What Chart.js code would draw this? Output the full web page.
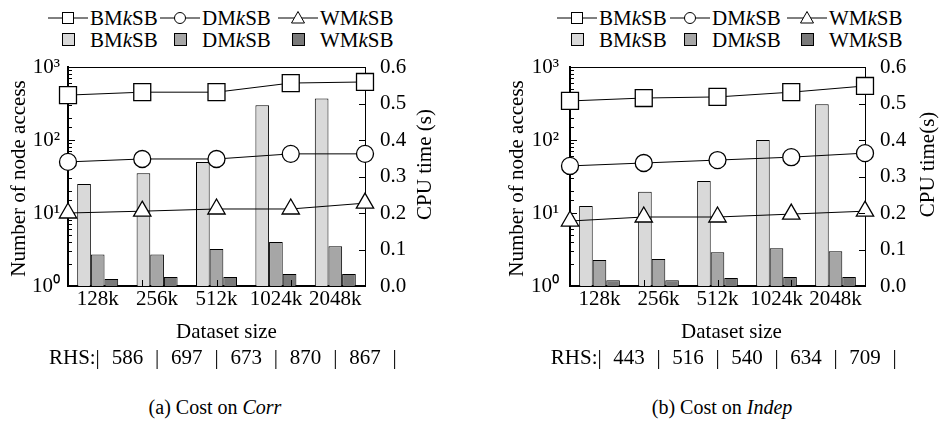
<!DOCTYPE html>
<html>
<head>
<meta charset="utf-8">
<title>Cost on Corr / Indep</title>
<script src="https://cdn.jsdelivr.net/npm/chart.js@4.4.0/dist/chart.umd.min.js"></script>
<style>
  html, body { margin: 0; padding: 0; background: #fff; }
  body { width: 941px; height: 422px; position: relative; overflow: hidden;
         font-family: "Liberation Serif", "Times New Roman", serif; color: #000; }
  .panel { position: absolute; top: 0; height: 422px; }
  .panel canvas { position: absolute; top: 50px; left: 0; }
  .legend { position: absolute; top: 7px; display: grid; row-gap: 0; font-size: 21px; line-height: 22px; }
  .legend .cell { display: flex; align-items: center; white-space: nowrap; }
  .legend .ico { width: 42px; height: 22px; position: relative; flex: none; }
  .legend .box { position: absolute; left: 14px; top: 4px; width: 11px; height: 11px; border: 1px solid #000; }
  .cap { position: absolute; top: 396px; font-size: 20px; white-space: nowrap; transform: translateX(-50%); }
</style>
</head>
<body>
<div class="panel" style="left:0;width:470px">
  <div class="legend" id="legA" style="left:48px;grid-template-columns:112px 118px 120px"></div>
  <canvas id="barsA" width="470" height="330"></canvas>
  <canvas id="linesA" width="470" height="330"></canvas>
  <div class="cap" style="left:215px">(a) Cost on <i>Corr</i></div>
</div>
<div class="panel" style="left:470px;width:471px">
  <div class="legend" id="legB" style="left:87px;grid-template-columns:113px 117px 120px"></div>
  <canvas id="barsB" width="471" height="330"></canvas>
  <canvas id="linesB" width="471" height="330"></canvas>
  <div class="cap" style="left:252px">(b) Cost on <i>Indep</i></div>
</div>

<script>
// ---- data ----
const categories = ['128k', '256k', '512k', '1024k', '2048k'];
const seriesNames = ['BMkSB', 'DMkSB', 'WMkSB'];

// (a) Corr: node accesses (bars, log axis) and CPU time in s (lines)
const corrNodeBM = [25, 35, 50, 300, 370];
const corrNodeDM = [2.7, 2.7, 3.2, 4.0, 3.5];
const corrNodeWM = [1.25, 1.33, 1.33, 1.46, 1.46];
const corrCpuBM = [0.523, 0.531, 0.531, 0.556, 0.559];
const corrCpuDM = [0.340, 0.348, 0.348, 0.362, 0.362];
const corrCpuWM = [0.200, 0.205, 0.211, 0.211, 0.227];
const corrRHS = [586, 697, 673, 870, 867];

// (b) Indep
const indepNodeBM = [12.5, 19.5, 27.5, 100, 310];
const indepNodeDM = [2.27, 2.35, 2.9, 3.3, 3.0];
const indepNodeWM = [1.2, 1.2, 1.29, 1.33, 1.33];
const indepCpuBM = [0.507, 0.515, 0.518, 0.531, 0.548];
const indepCpuDM = [0.329, 0.337, 0.345, 0.353, 0.364];
const indepCpuWM = [0.178, 0.189, 0.189, 0.197, 0.205];
const indepRHS = [443, 516, 540, 634, 709];

const nodeRange = [1, 1000];
const cpuRange = [0, 0.6];
const cpuStep = 0.1;

// ---- styling ----
const FONT = '"Liberation Serif", "Times New Roman", serif';
const INK = '#000';
const barFill = ['#d9d9d9', '#a6a6a6', '#7a7a7a'];
const markers = ['rect', 'circle', 'triangle'];
const markerSize = [12, 8.5, 10];
const TOP = 17, XAXIS_H = 94;

const sup = { '0': '⁰', '1': '¹', '2': '²', '3': '³', '4': '⁴' };
const isDecade = v => { const e = Math.log10(v); return Math.abs(e - Math.round(e)) < 1e-9; };
const italK = s => s.replace('k', '<i>k</i>');
// no extra room for label overhang, so both stacked charts get the same plot box
const noOverhang = s => { s.paddingTop = 0; s.paddingBottom = 0; s.paddingLeft = 0; s.paddingRight = 0; };

// bars and lines live in two stacked charts with the same plot box
// (one chart with two x axes makes Chart.js split the bar groups)

// inward ticks, top frame line, axis titles and the RHS row
const decor = {
  id: 'decor',
  afterDraw(chart, args, o) {
    const { ctx, chartArea: a, scales } = chart;
    ctx.save();
    ctx.strokeStyle = INK;
    ctx.lineWidth = 1;
    ctx.beginPath();
    if (scales.y) {
      ctx.moveTo(a.left, a.top + 0.5);
      ctx.lineTo(a.right, a.top + 0.5);
      scales.y.ticks.forEach(t => {
        const py = Math.round(scales.y.getPixelForValue(t.value)) + 0.5;
        ctx.moveTo(a.left, py);
        ctx.lineTo(a.left + (isDecade(t.value) ? 7 : 4), py);
      });
    }
    if (scales.y2) {
      scales.y2.ticks.forEach(t => {
        const py = Math.round(scales.y2.getPixelForValue(t.value)) + 0.5;
        ctx.moveTo(a.right, py);
        ctx.lineTo(a.right - 6, py);
      });
      for (let i = 1; i < categories.length - 1; i++) {
        const px = Math.round(scales.x2.getPixelForValue(i)) + 0.5;
        ctx.moveTo(px, a.bottom);
        ctx.lineTo(px, a.bottom - 6);
      }
    }
    ctx.stroke();

    if (scales.x) {
      const x = scales.x;
      ctx.fillStyle = INK;
      ctx.font = '21px ' + FONT;
      ctx.textAlign = 'center';
      ctx.textBaseline = 'middle';
      const cx = (a.left + a.right) / 2, cy = (a.top + a.bottom) / 2;
      ctx.fillText('Dataset size', cx + o.xTitleShift, a.bottom + 46);
      [[o.yTitle, a.left - o.yTitleGap, cy + 2], [o.y2Title, a.right + o.y2TitleGap, cy - 12]].forEach(([s, tx, ty]) => {
        ctx.save();
        ctx.translate(tx, ty);
        ctx.rotate(-Math.PI / 2);
        ctx.fillText(s, 0, 0);
        ctx.restore();
      });

      // RHS: a bar at every category centre, values in between
      const x0 = x.getPixelForValue(0);
      const step = x.getPixelForValue(1) - x0;
      const ry = a.bottom + 72;
      ctx.textAlign = 'right';
      ctx.fillText('RHS:', x0 - 2, ry);
      ctx.textAlign = 'center';
      for (let i = 0; i <= o.rhs.length; i++) ctx.fillText('|', x0 + i * step, ry);
      o.rhs.forEach((v, i) => ctx.fillText(String(v), x0 + i * step + step / 2, ry));
    }
    ctx.restore();
  }
};

function buildLegend(el) {
  let html = '';
  seriesNames.forEach((n, i) => {
    let m;
    if (i === 0) m = '<rect x="14.5" y="4.5" width="11" height="11" fill="#fff" stroke="#000"/>';
    else if (i === 1) m = '<circle cx="20" cy="10" r="5.5" fill="#fff" stroke="#000"/>';
    else m = '<polygon points="20,3.5 26.5,15 13.5,15" fill="#fff" stroke="#000"/>';
    html += `<div class="cell"><svg class="ico" width="42" height="22" viewBox="0 0 42 20">` +
      `<line x1="0" y1="10" x2="40" y2="10" stroke="#000"/>${m}</svg>${italK(n)}</div>`;
  });
  seriesNames.forEach((n, i) => {
    html += `<div class="cell"><span class="ico"><span class="box" style="background:${barFill[i]}"></span></span>${italK(n)}</div>`;
  });
  el.innerHTML = html;
}

const tickFont = { family: FONT, size: 21 };
const baseOptions = (o, padding, scales) => ({
  responsive: false, animation: false, devicePixelRatio: 1,
  layout: { padding },
  plugins: { legend: { display: false }, tooltip: { enabled: false }, decor: o },
  scales
});

function makeBars(id, nodes, o) {
  return new Chart(document.getElementById(id), {
    type: 'bar',
    data: {
      labels: categories,
      datasets: nodes.map((d, i) => ({
        label: seriesNames[i], data: d, xAxisID: 'x', yAxisID: 'y',
        backgroundColor: barFill[i], borderColor: INK, borderWidth: 1,
        barPercentage: 1, categoryPercentage: 0.69
      }))
    },
    plugins: [decor],
    options: baseOptions(o, { top: TOP, bottom: 0, left: 0, right: o.rightW }, {
      x: {
        type: 'category', position: 'bottom', offset: true,
        grid: { display: false, drawTicks: false }, border: { display: true, color: INK, width: 2 },
        ticks: { color: INK, font: tickFont, padding: 1, maxRotation: 0, autoSkip: false },
        afterFit: s => { s.height = XAXIS_H; noOverhang(s); }
      },
      y: {
        type: 'logarithmic', position: 'left', min: nodeRange[0], max: nodeRange[1],
        grid: { display: false, drawTicks: false }, border: { display: true, color: INK, width: 2 },
        ticks: {
          color: INK, font: tickFont, padding: o.yPad, autoSkip: false,
          callback: v => isDecade(v) ? '10' + sup[Math.round(Math.log10(v))] : ''
        },
        afterFit: s => { s.width = o.leftW; noOverhang(s); }
      }
    })
  });
}

function makeLines(id, cpu, o) {
  return new Chart(document.getElementById(id), {
    type: 'line',
    data: {
      labels: categories,
      datasets: cpu.map((d, i) => ({
        label: seriesNames[i], data: d, xAxisID: 'x2', yAxisID: 'y2',
        borderColor: INK, borderWidth: 1, tension: 0, clip: false,
        pointStyle: markers[i], pointRadius: markerSize[i], pointBackgroundColor: '#fff',
        pointBorderColor: INK, pointBorderWidth: 1.3
      }))
    },
    plugins: [decor],
    options: baseOptions(o, { top: TOP, bottom: XAXIS_H, left: o.leftW, right: 0 }, {
      x2: { type: 'category', position: 'bottom', offset: false, display: false },
      y2: {
        type: 'linear', position: 'right', min: cpuRange[0], max: cpuRange[1],
        grid: { display: false, drawTicks: false }, border: { display: true, color: INK, width: 1 },
        ticks: { color: INK, font: tickFont, padding: 15, stepSize: cpuStep, callback: v => v.toFixed(1) },
        afterFit: s => { s.width = o.rightW; noOverhang(s); }
      }
    })
  });
}

buildLegend(document.getElementById('legA'));
buildLegend(document.getElementById('legB'));

const optsA = {
  leftW: 68, rightW: 105, yPad: 8, xTitleShift: 10, yTitleGap: 49, y2TitleGap: 60,
  yTitle: 'Number of node access', y2Title: 'CPU time (s)', rhs: corrRHS
};
const optsB = {
  leftW: 100, rightW: 76, yPad: 11, xTitleShift: 14, yTitleGap: 53, y2TitleGap: 63,
  yTitle: 'Number of node access', y2Title: 'CPU time(s)', rhs: indepRHS
};
makeBars('barsA', [corrNodeBM, corrNodeDM, corrNodeWM], optsA);
makeLines('linesA', [corrCpuBM, corrCpuDM, corrCpuWM], optsA);
makeBars('barsB', [indepNodeBM, indepNodeDM, indepNodeWM], optsB);
makeLines('linesB', [indepCpuBM, indepCpuDM, indepCpuWM], optsB);
</script>
</body>
</html>
